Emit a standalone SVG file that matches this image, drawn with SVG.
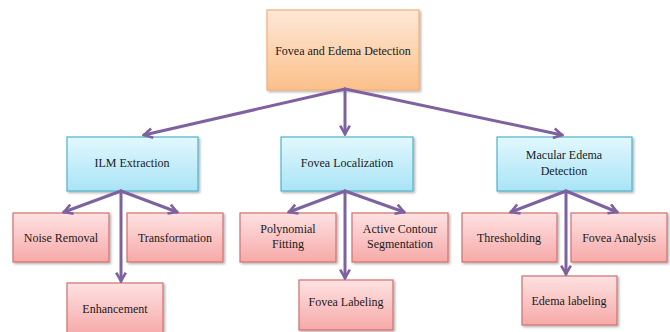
<svg xmlns="http://www.w3.org/2000/svg" width="670" height="332" viewBox="0 0 670 332">
<defs>
<linearGradient id="gOr" x1="0" y1="0" x2="0" y2="1"><stop offset="0" stop-color="#FEE8D8"/><stop offset="1" stop-color="#FBC08A"/></linearGradient>
<linearGradient id="gBl" x1="0" y1="0" x2="0" y2="1"><stop offset="0" stop-color="#E2F8FE"/><stop offset="1" stop-color="#A9E4F6"/></linearGradient>
<linearGradient id="gPk" x1="0" y1="0" x2="0" y2="1"><stop offset="0" stop-color="#FEE2E2"/><stop offset="1" stop-color="#F6A9A8"/></linearGradient>
<filter id="sh" x="-10%" y="-10%" width="130%" height="130%"><feDropShadow dx="1.5" dy="1.5" stdDeviation="1.2" flood-color="#000" flood-opacity="0.3"/></filter>
<marker id="ah" viewBox="0 0 10 10" refX="8" refY="5" markerWidth="4" markerHeight="4" orient="auto" markerUnits="strokeWidth">
<path d="M1,1 L8,5 L1,9" fill="none" stroke="#7E62A0" stroke-width="2.2" stroke-linejoin="miter"/>
</marker>
</defs>
<style>
.or{fill:url(#gOr);stroke:#F6AE74;stroke-width:1.2;filter:url(#sh)}
.bl{fill:url(#gBl);stroke:#4FB3CC;stroke-width:1.2;filter:url(#sh)}
.pk{fill:url(#gPk);stroke:#D0706E;stroke-width:1.2;filter:url(#sh)}
text{font-size:12px;fill:#1a1a1a;text-anchor:middle}
.c line{stroke:#7E62A0;stroke-width:3;marker-end:url(#ah);stroke-linecap:round}
</style>
<rect width="670" height="332" fill="#ffffff"/>
<g font-family="'Liberation Serif', 'Times New Roman', serif">
<g id="root"><rect class="or" x="267" y="10" width="152" height="80"/><text x="343" y="55">Fovea and Edema Detection</text></g>
<g id="ilm"><rect class="bl" x="67" y="137" width="131" height="54"/><text x="132" y="167">ILM Extraction</text></g>
<g id="foveaLoc"><rect class="bl" x="281" y="137" width="132" height="54"/><text x="347" y="167">Fovea Localization</text></g>
<g id="macular"><rect class="bl" x="497" y="137" width="135" height="54"/><text x="564" y="159">Macular Edema</text><text x="564" y="175">Detection</text></g>
<g id="noise"><rect class="pk" x="13" y="213" width="96" height="49"/><text x="61" y="242">Noise Removal</text></g>
<g id="transf"><rect class="pk" x="127" y="213" width="96" height="49"/><text x="175" y="242">Transformation</text></g>
<g id="enh"><rect class="pk" x="67" y="283" width="96" height="52"/><text x="115" y="313">Enhancement</text></g>
<g id="poly"><rect class="pk" x="240" y="213" width="96" height="49"/><text x="288" y="233">Polynomial</text><text x="288" y="248">Fitting</text></g>
<g id="active"><rect class="pk" x="352" y="213" width="96" height="49"/><text x="400" y="233">Active Contour</text><text x="400" y="248">Segmentation</text></g>
<g id="fovLab"><rect class="pk" x="299" y="280" width="94" height="50"/><text x="346" y="306">Fovea Labeling</text></g>
<g id="thresh"><rect class="pk" x="462" y="213" width="95" height="49"/><text x="509" y="242">Thresholding</text></g>
<g id="fovAn"><rect class="pk" x="571" y="213" width="96" height="49"/><text x="619" y="242">Fovea Analysis</text></g>
<g id="edLab"><rect class="pk" x="522" y="276" width="95" height="49"/><text x="569" y="305">Edema labeling</text></g>
</g>
<g class="c" id="connectors">
<line x1="345" y1="89" x2="144" y2="135"/>
<line x1="345" y1="89" x2="345" y2="134"/>
<line x1="345" y1="89" x2="562" y2="135"/>
<line x1="121" y1="191" x2="64" y2="212"/>
<line x1="121" y1="191" x2="177" y2="212"/>
<line x1="121" y1="191" x2="121" y2="281"/>
<line x1="345" y1="191" x2="289" y2="212"/>
<line x1="345" y1="191" x2="404" y2="212"/>
<line x1="345" y1="191" x2="345" y2="278"/>
<line x1="566" y1="191" x2="511" y2="212"/>
<line x1="566" y1="191" x2="617" y2="212"/>
<line x1="566" y1="191" x2="566" y2="274"/>
</g>
</svg>
